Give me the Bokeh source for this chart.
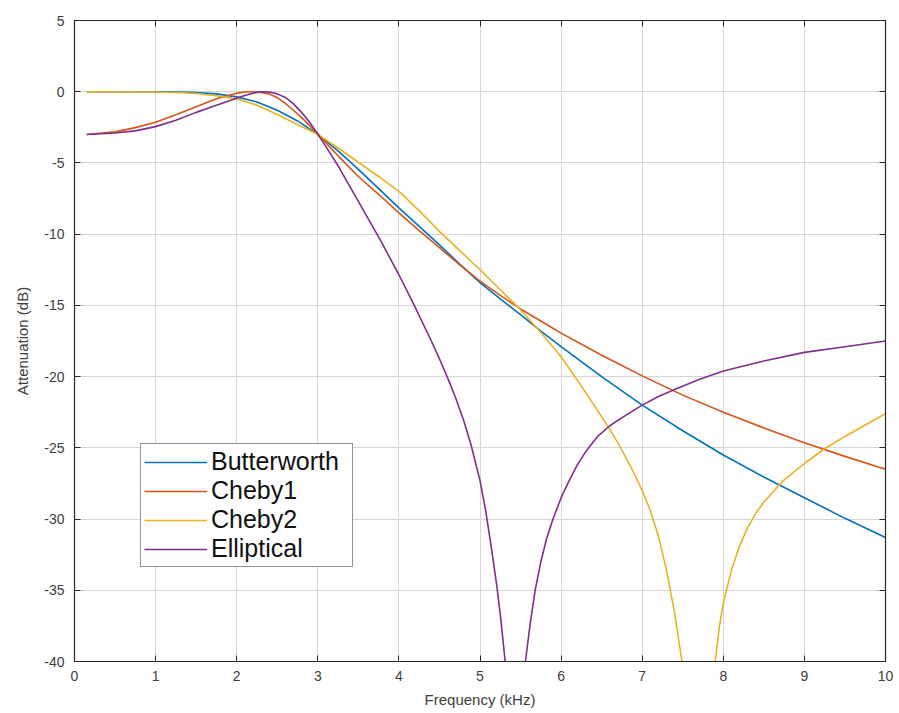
from bokeh.plotting import figure
from bokeh.models import Range1d, LinearAxis, FixedTicker, Legend, LegendItem
from bokeh.embed import file_html
from bokeh.resources import INLINE

# ---- data (frequency in kHz, attenuation in dB) ----
freq_bw = [0.15, 0.5, 1.0, 1.25, 1.5, 1.75, 2.0, 2.25, 2.5, 2.75, 3.0, 3.25, 3.5, 3.75,
           4.0, 4.25, 4.5, 4.75, 5.0, 5.25, 5.5, 5.75, 6.0, 6.5, 7.0, 7.5, 8.0, 8.5,
           9.0, 9.5, 10.0]
butterworth = [0.0, 0.0, 0.0, -0.02, -0.05, -0.15, -0.36, -0.72, -1.3, -2.05, -3.0, -4.15,
               -5.45, -6.8, -8.15, -9.45, -10.75, -12.1, -13.4, -14.55, -15.65, -16.8,
               -17.9, -20.0, -22.0, -23.8, -25.5, -27.05, -28.5, -29.95, -31.3]

freq_c1 = [0.15, 0.5, 0.75, 1.0, 1.25, 1.5, 1.75, 2.0, 2.1, 2.25, 2.4, 2.5, 2.6, 2.7, 2.8,
           2.9, 3.0, 3.25, 3.5, 3.75, 4.0, 4.25, 4.5, 4.75, 5.0, 5.25, 5.5, 5.75, 6.0,
           6.5, 7.0, 7.5, 8.0, 8.5, 9.0, 9.5, 10.0]
cheby1 = [-3.0, -2.82, -2.52, -2.15, -1.62, -1.05, -0.5, -0.1, -0.02, 0.0, -0.15, -0.42,
          -0.82, -1.3, -1.82, -2.38, -2.98, -4.5, -5.95, -7.2, -8.5, -9.75, -10.95,
          -12.15, -13.3, -14.3, -15.25, -16.1, -16.95, -18.5, -19.95, -21.3, -22.5,
          -23.6, -24.65, -25.6, -26.5]

freq_c2 = [0.15, 1.0, 1.25, 1.5, 1.75, 2.0, 2.25, 2.5, 2.75, 3.0, 3.25, 3.5, 3.75, 4.0,
           4.25, 4.5, 4.75, 5.0, 5.25, 5.5, 5.75, 6.0, 6.2, 6.4, 6.6, 6.7, 6.8, 6.9,
           7.0, 7.1, 7.2, 7.3, 7.4, 7.49, 7.7, 7.9, 7.95, 8.0, 8.1, 8.2, 8.3, 8.4, 8.5,
           8.74, 9.0, 9.24, 9.5, 9.75, 10.0]
cheby2 = [0.0, -0.02, -0.05, -0.12, -0.28, -0.5, -0.95, -1.6, -2.3, -3.0, -3.95, -4.95,
          -5.95, -7.0, -8.35, -9.8, -11.15, -12.5, -13.9, -15.3, -16.9, -18.6, -20.25,
          -21.95, -23.7, -24.65, -25.7, -26.8, -28.0, -29.4, -31.2, -33.6, -36.6, -40.0,
          -80.0, -40.0, -37.6, -35.9, -33.6, -31.9, -30.6, -29.6, -28.8, -27.3, -26.1,
          -25.1, -24.2, -23.4, -22.6]

freq_el = [0.15, 0.5, 0.75, 1.0, 1.25, 1.5, 1.75, 2.0, 2.1, 2.2, 2.3, 2.4, 2.5, 2.6, 2.7,
           2.8, 2.9, 3.0, 3.1, 3.25, 3.5, 3.77, 4.0, 4.18, 4.4, 4.5, 4.62, 4.7, 4.8,
           4.89, 5.0, 5.07, 5.14, 5.21, 5.26, 5.31, 5.43, 5.56, 5.62, 5.68, 5.75, 5.82,
           5.9, 6.0, 6.1, 6.2, 6.3, 6.45, 6.6, 6.8, 7.0, 7.2, 7.4, 7.7, 8.0, 8.5, 9.0,
           9.5, 10.0]
elliptical = [-3.0, -2.9, -2.75, -2.45, -2.0, -1.45, -0.95, -0.45, -0.27, -0.1, -0.01,
              -0.02, -0.15, -0.4, -0.85, -1.45, -2.15, -2.97, -3.85, -5.2, -7.7, -10.4,
              -12.85, -14.9, -17.5, -18.75, -20.35, -21.5, -23.1, -24.8, -27.3, -29.4,
              -32.0, -34.8, -37.2, -40.0, -80.0, -40.0, -37.3, -35.0, -33.0, -31.4,
              -30.0, -28.5, -27.3, -26.2, -25.3, -24.2, -23.45, -22.7, -22.0, -21.4,
              -20.9, -20.2, -19.6, -18.9, -18.3, -17.9, -17.5]

x_ticks = list(range(0, 11))
y_ticks = list(range(-40, 6, 5))

series = [
    ("Butterworth", freq_bw, butterworth, "#0072BD"),
    ("Cheby1", freq_c1, cheby1, "#D95319"),
    ("Cheby2", freq_c2, cheby2, "#EDB120"),
    ("Elliptical", freq_el, elliptical, "#7E2F8E"),
]

FONT = "Liberation Sans"
AX = "#262626"
TXT = "#404040"

p = figure(width=893, height=710, output_backend="svg", toolbar_location=None,
           x_range=Range1d(0, 10), y_range=Range1d(-40, 5),
           min_border_left=74, min_border_right=8, min_border_top=20, min_border_bottom=48)
p.background_fill_color = "white"
p.border_fill_color = "white"
p.outline_line_color = AX
p.outline_line_width = 1.2

items = []
for name, xs, ys, col in series:
    r = p.line(xs, ys, line_color=col, line_width=1.6)
    items.append(LegendItem(label=name, renderers=[r]))

p.xaxis.ticker = FixedTicker(ticks=x_ticks)
p.yaxis.ticker = FixedTicker(ticks=y_ticks)
p.xaxis.major_label_overrides = {t: str(t) for t in x_ticks}
p.yaxis.major_label_overrides = {t: str(t) for t in y_ticks}
p.xaxis.axis_label = "Frequency (kHz)"
p.yaxis.axis_label = "Attenuation (dB)"

for ax in [p.xaxis[0], p.yaxis[0]]:
    ax.major_tick_in = 6
    ax.major_tick_out = 0
    ax.minor_tick_line_color = None
    ax.axis_line_color = AX
    ax.major_tick_line_color = AX
    ax.major_label_text_font = FONT
    ax.major_label_text_font_size = "14px"
    ax.major_label_text_color = TXT
    ax.axis_label_text_font = FONT
    ax.axis_label_text_font_size = "15px"
    ax.axis_label_text_font_style = "normal"
    ax.axis_label_text_color = TXT
    ax.major_label_standoff = 9
    ax.axis_label_standoff = 7

p.yaxis[0].major_label_standoff = 10
p.yaxis[0].axis_label_standoff = 10

top = LinearAxis(ticker=FixedTicker(ticks=x_ticks))
right = LinearAxis(ticker=FixedTicker(ticks=y_ticks))
for ax in [top, right]:
    ax.major_tick_in = 6
    ax.major_tick_out = 0
    ax.minor_tick_line_color = None
    ax.axis_line_color = AX
    ax.major_tick_line_color = AX
    ax.major_label_text_font_size = "0px"
    ax.major_label_text_color = None
    ax.major_label_standoff = 0
p.add_layout(top, "above")
p.add_layout(right, "right")

p.grid.grid_line_color = "#d6d6d6"
p.grid.grid_line_width = 1

legend = Legend(items=items, location=(66, 94))
legend.label_text_font = FONT
legend.label_text_font_size = "25px"
legend.label_text_color = "#111111"
legend.glyph_width = 63
legend.glyph_height = 28
legend.label_height = 28
legend.label_width = 138
legend.label_standoff = 4
legend.spacing = 0
legend.padding = 3
legend.margin = 0
legend.border_line_color = AX
legend.border_line_width = 1.5
legend.background_fill_alpha = 1
p.add_layout(legend, "center")

open("out.html", "w").write(file_html(p, INLINE))
